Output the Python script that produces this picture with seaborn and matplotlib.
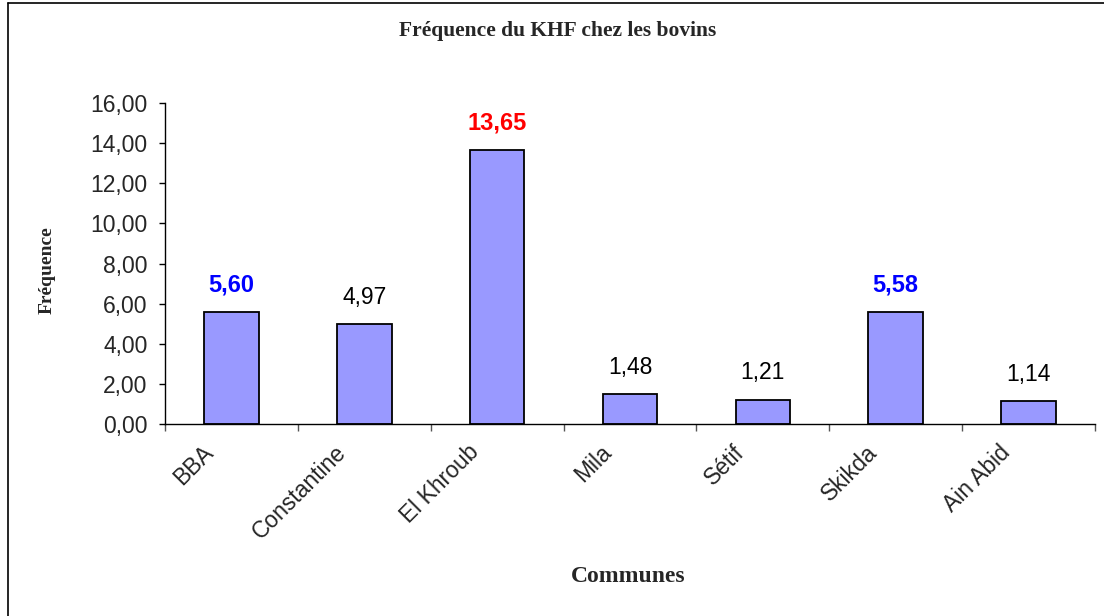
import matplotlib
matplotlib.use("Agg")
import matplotlib.pyplot as plt
import matplotlib.transforms as mtransforms
import seaborn as sns
import pandas as pd
from matplotlib.lines import Line2D

communes = ["BBA", "Constantine", "El Khroub", "Mila", "Sétif", "Skikda", "Ain Abid"]
frequences = [5.60, 4.97, 13.65, 1.48, 1.21, 5.58, 1.14]
label_colors = ["#0000FF", "black", "#FF0000", "black", "black", "#0000FF", "black"]
label_bold = [True, False, True, False, False, True, False]
yticks = [0, 2, 4, 6, 8, 10, 12, 14, 16]

sns.set_theme(style="white")
plt.rcParams["font.family"] = ["Liberation Sans", "DejaVu Sans"]

df = pd.DataFrame({"Commune": communes, "Fréquence": frequences})

fig = plt.figure(figsize=(11.04, 6.16), dpi=100)
ax = fig.add_axes([165 / 1104, 1 - 424 / 616, (1095 - 165) / 1104, (424 - 103) / 616])

sns.barplot(data=df, x="Commune", y="Fréquence", ax=ax, color="#9999FF",
            saturation=1, width=0.41, edgecolor="black", linewidth=1.3)

ax.set_xlim(-0.5, len(communes) - 0.5)
ax.set_ylim(0, 16)
ax.set_yticks(yticks)
ax.set_yticklabels([f"{v:.2f}".replace(".", ",") for v in yticks], fontsize=16.5)

for s in ["top", "right"]:
    ax.spines[s].set_visible(False)
for s in ["left", "bottom"]:
    ax.spines[s].set_color("black")
    ax.spines[s].set_linewidth(1.0)

# x ticks at category boundaries
ax.set_xticks([i - 0.5 for i in range(len(communes) + 1)], minor=False)
ax.set_xticklabels([])
ax.tick_params(axis="x", which="major", direction="out", length=5, width=1, color="#555555", bottom=True)
ax.tick_params(axis="y", direction="out", length=4.5, width=1, color="black", left=True, labelsize=16.5, pad=8)
ax.set_xticks(range(len(communes)), minor=True)
ax.set_xticklabels(communes, minor=True, rotation=45, ha="right", va="top",
                   rotation_mode="anchor", fontsize=16.5)
ax.tick_params(axis="x", which="minor", length=0, pad=12)
shift = mtransforms.ScaledTranslation(-30 / 100, 0, fig.dpi_scale_trans)
for lab in ax.get_xticklabels(minor=True):
    lab.set_transform(lab.get_transform() + shift)
ax.grid(False)

for i, (v, c, b) in enumerate(zip(frequences, label_colors, label_bold)):
    ax.annotate(f"{v:.2f}".replace(".", ","), xy=(i, v), xytext=(0, 19.5), textcoords="offset points",
                ha="center", va="center", fontsize=17 if b else 16.5, color=c,
                fontweight="bold" if b else "normal")

ax.set_xlabel("")
ax.set_ylabel("")
fig.text(558 / 1104, 1 - 31 / 616, "Fréquence du KHF chez les bovins", ha="center", va="center",
         family=["Liberation Serif"], fontweight="bold", fontsize=15.5)
fig.text(628 / 1104, 1 - 577 / 616, "Communes", ha="center", va="center",
         family=["Liberation Serif"], fontweight="bold", fontsize=17)
fig.text(47 / 1104, 1 - 270 / 616, "Fréquence", ha="center", va="center", rotation=90,
         family=["Liberation Serif"], fontweight="bold", fontsize=14)

# figure border (left and top visible)
fig.add_artist(Line2D([8 / 1104, 8 / 1104], [0, 1 - 3 / 616], transform=fig.transFigure, color="black", lw=1.2))
fig.add_artist(Line2D([8 / 1104, 1], [1 - 3 / 616, 1 - 3 / 616], transform=fig.transFigure, color="black", lw=1.2))

fig.savefig("out.png", dpi=100)
